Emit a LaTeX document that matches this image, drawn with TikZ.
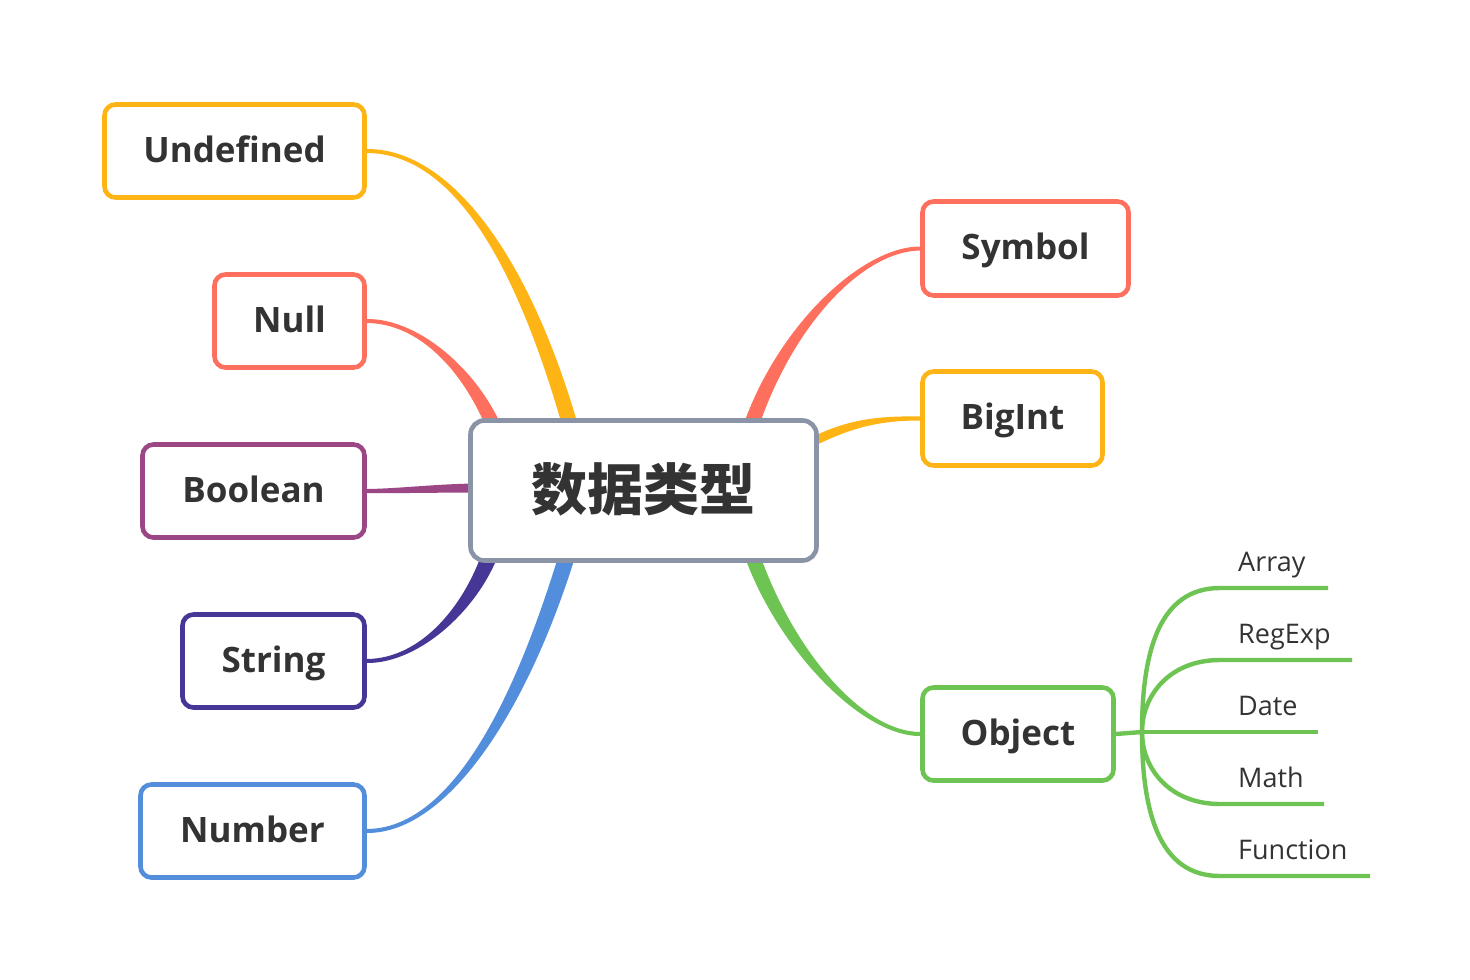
\documentclass[tikz,border=0pt]{standalone}
\usepackage{fontspec}
\setmainfont{Open Sans}
\newfontfamily\cjk{Noto Sans CJK SC}
\usetikzlibrary{calc}
\pgfdeclarelayer{bg}
\pgfsetlayers{bg,main}
\definecolor{yel}{HTML}{FDB414}
\definecolor{red}{HTML}{FE6F5E}
\definecolor{purp}{HTML}{9B4786}
\definecolor{dpurp}{HTML}{463696}
\definecolor{blu}{HTML}{528EDB}
\definecolor{grn}{HTML}{6EC452}
\definecolor{gry}{HTML}{8A94A6}
\definecolor{txt}{HTML}{333333}
\tikzset{
 box/.style={draw=#1, line width=4.6pt, rounded corners=11pt, fill=white, inner sep=0pt,
   text=txt, font=\fontsize{35}{40}\selectfont\bfseries, text height=22pt, text depth=0pt, align=center},
 leaf/.style={anchor=base west, inner sep=0pt, text=txt, font=\fontsize{27}{30}\selectfont},
 twig/.style={draw=grn, line width=4.4pt},
}
% tapered branch: start horizontal, end vertical (#6 signed end width)
\newcommand\vbranch[6]{%
 \fill[#1] ($(#2)+(0,-2)$) .. controls ($(#3)+(0,-2.4)$) and ($(#4)+(#6/2,0)$) .. ($(#5)+(#6/2,0)$)
   -- ($(#5)+(-#6/2,0)$) .. controls ($(#4)+(-#6/2,0)$) and ($(#3)+(0,2.4)$) .. ($(#2)+(0,2)$) -- cycle;}
% tapered branch: start and end horizontal
\newcommand\hbranch[6]{%
 \fill[#1] ($(#2)+(0,-2)$) .. controls ($(#3)+(0,-2.4)$) and ($(#4)+(0,-#6/2)$) .. ($(#5)+(0,-#6/2)$)
   -- ($(#5)+(0,#6/2)$) .. controls ($(#4)+(0,#6/2)$) and ($(#3)+(0,2.4)$) .. ($(#2)+(0,2)$) -- cycle;}
\begin{document}
\begin{tikzpicture}[x=1pt,y=-1pt]
\useasboundingbox (0,0) rectangle (1470,980);
% nodes
\node[box=gry, minimum width=346pt, minimum height=140pt, rounded corners=14pt, text height=40pt,
  font=\fontsize{56}{60}\selectfont\cjk\bfseries] (c) at (643.5,490.5) {数据类型};
\node[box=yel, minimum width=260pt, minimum height=93pt] (undef) at (234.5,151) {Undefined};
\node[box=red, minimum width=150pt, minimum height=93pt] (null) at (289.5,321) {Null};
\node[box=purp, minimum width=222pt, minimum height=93pt] (bool) at (253.5,491) {Boolean};
\node[box=dpurp, minimum width=182pt, minimum height=93pt] (str) at (273.5,661) {String};
\node[box=blu, minimum width=224pt, minimum height=93pt] (num) at (252.5,831) {Number};
\node[box=red, minimum width=206pt, minimum height=94pt] (sym) at (1025.5,248.5) {Symbol};
\node[box=yel, minimum width=180pt, minimum height=94pt] (big) at (1012.5,418.5) {BigInt};
\node[box=grn, minimum width=191pt, minimum height=93pt] (obj) at (1018,734) {Object};
% leaves
\node[leaf] (arr) at (1238,571) {Array};
\node[leaf] (reg) at (1238,643) {RegExp};
\node[leaf] (dat) at (1238,715) {Date};
\node[leaf] (mat) at (1238,787) {Math};
\node[leaf] (fun) at (1238,859) {Function};
% connector end points
\coordinate (eU) at (572,432);
\coordinate (eN) at (496,432);
\coordinate (eB) at (480,488);
\coordinate (eS) at (492,549);
\coordinate (eNum) at (569,549);
\coordinate (eSym) at (749,432);
\coordinate (eBig) at (810,443);
\coordinate (eO) at (750,549);
\coordinate (hub) at (1142,732);
\coordinate (a1) at (1220,588); \coordinate (a2) at (1328,588);
\coordinate (r1) at (1220,660); \coordinate (r2) at (1352,660);
\coordinate (d1) at (1220,732); \coordinate (d2) at (1318,732);
\coordinate (m1) at (1220,804); \coordinate (m2) at (1324,804);
\coordinate (f1) at (1220,876); \coordinate (f2) at (1370,876);
\begin{pgfonlayer}{bg}
\vbranch{yel}{undef.east}{450,151}{522,255}{eU}{16}
\vbranch{red}{null.east}{420,321}{472,372}{eN}{16}
\hbranch{purp}{bool.east}{400,491}{440,488}{eB}{9}
\vbranch{dpurp}{str.east}{420,661}{472,608}{eS}{-17}
\vbranch{blu}{num.east}{450,831}{522,705}{eNum}{-17}
\vbranch{red}{sym.west}{860,249}{782,330}{eSym}{-16}
\hbranch{yel}{big.west}{872,418}{845,426}{eBig}{10}
\vbranch{grn}{obj.west}{860,734}{782,645}{eO}{16}
\draw[twig] (obj.east) -- (hub);
\draw[twig] (hub) .. controls (1142,650) and (1160,588) .. (a1) -- (a2);
\draw[twig] (hub) .. controls (1142,695) and (1170,660) .. (r1) -- (r2);
\draw[twig] (hub) -- (d1) -- (d2);
\draw[twig] (hub) .. controls (1142,769) and (1170,804) .. (m1) -- (m2);
\draw[twig] (hub) .. controls (1142,814) and (1160,876) .. (f1) -- (f2);
\end{pgfonlayer}
\end{tikzpicture}
\end{document}
